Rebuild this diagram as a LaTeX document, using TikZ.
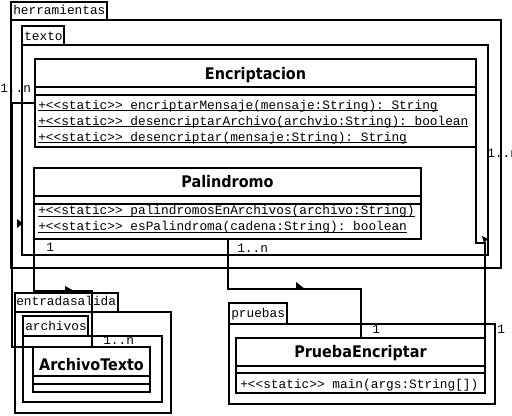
\documentclass[tikz,border=0pt]{standalone}
\usepackage{fontspec}
\setmonofont{Liberation Mono}
\newfontfamily\clsfont{DejaVu Sans Condensed}
\newcommand\opfont{\ttfamily\fontsize{9.6pt}{11pt}\selectfont}
\newcommand\namefont{\clsfont\bfseries\fontsize{12pt}{14pt}\selectfont}
\newcommand\stul[1]{\setbox0\hbox{#1}\rlap{\rule[-1.2pt]{\wd0}{0.7pt}}\box0}
\begin{document}
\begin{tikzpicture}[x=0.75pt,y=-0.75pt,
  pkg/.style={draw,line width=1.5pt},
  umlclass/.style={draw,line width=1.5pt,fill=white,inner sep=0pt,outer sep=0pt,anchor=north west},
  clsname/.style={font=\namefont,inner sep=0pt,anchor=base},
  op/.style={font=\opfont,inner sep=0pt,anchor=base west},
  tabtext/.style={font=\opfont,inner sep=0pt,anchor=base west},
  mult/.style={font=\opfont,inner sep=0pt,anchor=base west},
  conn/.style={line width=1.5pt},
  navtip/.style={fill=black}]
\useasboundingbox (0,0) rectangle (512,416);
\clip (0,0) rectangle (512,416);
% paquetes
\draw[pkg] (11,2) rectangle (107,20);
\node[tabtext] (herramientasTab) at (13,15) {herramientas};
\draw[pkg] (11,20) rectangle (501,268);
\draw[pkg] (22,26) rectangle (64,45);
\node[tabtext] (textoTab) at (24,41) {texto};
\draw[pkg] (22,45) rectangle (488,255);
\draw[pkg] (15,293) rectangle (118,312);
\node[tabtext] (entradasalidaTab) at (16,306) {entradasalida};
\draw[pkg] (15,312) rectangle (171,413);
\draw[pkg] (23,316) rectangle (88,336);
\node[tabtext] (archivosTab) at (25,331) {archivos};
\draw[pkg] (23,336) rectangle (162,402);
\draw[pkg] (229,303) rectangle (287,324);
\node[tabtext] (pruebasTab) at (231,318) {pruebas};
\draw[pkg] (229,324) rectangle (495,404);
% clases
\node[umlclass,minimum width=441*0.75pt,minimum height=88*0.75pt] (encriptacion) at (35,59) {};
\draw[conn] (35,87) -- (476,87);
\draw[conn] (35,95) -- (476,95);
\node[clsname] (encriptacionName) at (255.5,80) {Encriptacion};
\node[op] (encOpA) at (38,109.5) {\stul{+<<static>> encriptarMensaje(mensaje:String): String}};
\node[op] (encOpB) at (38,125.5) {\stul{+<<static>> desencriptarArchivo(archvio:String): boolean}};
\node[op] (encOpC) at (38,141.5) {\stul{+<<static>> desencriptar(mensaje:String): String}};
\node[umlclass,minimum width=387*0.75pt,minimum height=71*0.75pt] (palindromo) at (34,168) {};
\draw[conn] (34,196) -- (421,196);
\draw[conn] (34,204) -- (421,204);
\node[clsname] (palindromoName) at (227.5,188) {Palindromo};
\node[op] (palOpA) at (38,215) {\stul{+<<static>> palindromosEnArchivos(archivo:String)}};
\node[op] (palOpB) at (38,231) {\stul{+<<static>> esPalindroma(cadena:String): boolean}};
\node[umlclass,minimum width=117*0.75pt,minimum height=45*0.75pt] (archivoTexto) at (33,347) {};
\draw[conn] (33,376) -- (150,376);
\draw[conn] (33,384) -- (150,384);
\node[clsname] (archivoTextoName) at (91.5,371) {ArchivoTexto};
\node[umlclass,minimum width=249*0.75pt,minimum height=55*0.75pt] (pruebaEncriptar) at (236,338) {};
\draw[conn] (236,366) -- (485,366);
\draw[conn] (236,373) -- (485,373);
\node[clsname] (pruebaEncriptarName) at (360.5,358) {PruebaEncriptar};
\node[op] (pruOpA) at (240,389) {+<<static>> main(args:String[])};
% multiplicidades
\node[mult] (multEncA) at (0,93) {1..n};
\node[mult] (multEncB) at (487,158) {1..n};
\node[mult] (multPalA) at (46,252) {1};
\node[mult] (multPalB) at (237,253) {1..n};
\node[mult] (multArch) at (103,345) {1..n};
\node[mult] (multPruA) at (372,334) {1};
\node[mult] (multPruB) at (497,334) {1};
% asociaciones
\draw[conn] (encriptacion.west) -| (12,347) -- (archivoTexto.north);
\draw[conn] (palindromo.south west) -- ++(0,52) -| (archivoTexto.north);
\draw[conn] (palindromo.south) -- ++(0,50) -| (pruebaEncriptar.north);
\draw[conn] (encriptacion.south east) -- ++(0,96) -| (pruebaEncriptar.north east);
\fill[navtip] (17,219) -- (23,223.5) -- (17,228) -- cycle;
\fill[navtip] (65,286) -- (74,291) -- (65,292) -- cycle;
\fill[navtip] (296,282) -- (305,289) -- (296,290) -- cycle;
\fill[navtip] (482,236) -- (488,239) -- (484,243) -- cycle;
\end{tikzpicture}
\end{document}
